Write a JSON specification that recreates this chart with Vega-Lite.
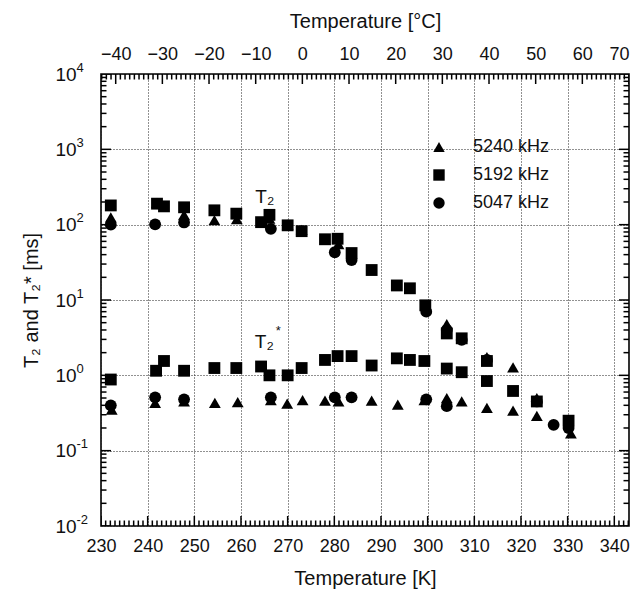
{
  "$schema": "https://vega.github.io/schema/vega-lite/v6.json",
  "width": 528,
  "height": 452,
  "autosize": "none",
  "padding": {"left": 101, "top": 74, "right": 6, "bottom": 66},
  "background": "white",
  "config": {
    "font": "Liberation Sans",
    "view": {"stroke": "black", "strokeWidth": 1.6},
    "axis": {
      "domain": false,
      "ticks": false,
      "labelFont": "Liberation Sans",
      "labelFontSize": 18,
      "labelColor": "#111",
      "labelFlush": false,
      "titleFont": "Liberation Sans",
      "titleFontSize": 20,
      "titleFontWeight": "normal",
      "titleColor": "#111",
      "gridColor": "#222",
      "gridDash": [1, 2],
      "gridWidth": 1
    }
  },
  "datasets": {
    "pts": [
      {"K": 232.1, "v": 125, "freq": "5240 kHz"},
      {"K": 242.0, "v": 195, "freq": "5240 kHz"},
      {"K": 247.8, "v": 135, "freq": "5240 kHz"},
      {"K": 254.3, "v": 115, "freq": "5240 kHz"},
      {"K": 259.1, "v": 118, "freq": "5240 kHz"},
      {"K": 266.1, "v": 120, "freq": "5240 kHz"},
      {"K": 270.0, "v": 100, "freq": "5240 kHz"},
      {"K": 273.0, "v": 85, "freq": "5240 kHz"},
      {"K": 280.9, "v": 55, "freq": "5240 kHz"},
      {"K": 304.1, "v": 4.8, "freq": "5240 kHz"},
      {"K": 312.7, "v": 1.75, "freq": "5240 kHz"},
      {"K": 318.3, "v": 1.28, "freq": "5240 kHz"},
      {"K": 232.3, "v": 0.35, "freq": "5240 kHz"},
      {"K": 241.6, "v": 0.43, "freq": "5240 kHz"},
      {"K": 247.8, "v": 0.45, "freq": "5240 kHz"},
      {"K": 254.4, "v": 0.43, "freq": "5240 kHz"},
      {"K": 259.3, "v": 0.44, "freq": "5240 kHz"},
      {"K": 266.4, "v": 0.47, "freq": "5240 kHz"},
      {"K": 269.9, "v": 0.42, "freq": "5240 kHz"},
      {"K": 273.2, "v": 0.47, "freq": "5240 kHz"},
      {"K": 278.0, "v": 0.46, "freq": "5240 kHz"},
      {"K": 280.9, "v": 0.45, "freq": "5240 kHz"},
      {"K": 288.0, "v": 0.46, "freq": "5240 kHz"},
      {"K": 293.6, "v": 0.41, "freq": "5240 kHz"},
      {"K": 299.3, "v": 0.47, "freq": "5240 kHz"},
      {"K": 304.1, "v": 0.5, "freq": "5240 kHz"},
      {"K": 307.3, "v": 0.45, "freq": "5240 kHz"},
      {"K": 312.7, "v": 0.37, "freq": "5240 kHz"},
      {"K": 318.3, "v": 0.34, "freq": "5240 kHz"},
      {"K": 323.4, "v": 0.5, "freq": "5240 kHz"},
      {"K": 323.4, "v": 0.29, "freq": "5240 kHz"},
      {"K": 330.7, "v": 0.17, "freq": "5240 kHz"},

      {"K": 232.1, "v": 180, "freq": "5192 kHz"},
      {"K": 242.0, "v": 190, "freq": "5192 kHz"},
      {"K": 243.5, "v": 175, "freq": "5192 kHz"},
      {"K": 247.8, "v": 170, "freq": "5192 kHz"},
      {"K": 254.3, "v": 155, "freq": "5192 kHz"},
      {"K": 259.0, "v": 140, "freq": "5192 kHz"},
      {"K": 264.3, "v": 108, "freq": "5192 kHz"},
      {"K": 266.1, "v": 135, "freq": "5192 kHz"},
      {"K": 270.0, "v": 98, "freq": "5192 kHz"},
      {"K": 273.0, "v": 82, "freq": "5192 kHz"},
      {"K": 278.0, "v": 64, "freq": "5192 kHz"},
      {"K": 280.7, "v": 65, "freq": "5192 kHz"},
      {"K": 283.7, "v": 42, "freq": "5192 kHz"},
      {"K": 288.0, "v": 25, "freq": "5192 kHz"},
      {"K": 293.4, "v": 15.6, "freq": "5192 kHz"},
      {"K": 296.2, "v": 14.3, "freq": "5192 kHz"},
      {"K": 299.5, "v": 8.5, "freq": "5192 kHz"},
      {"K": 304.1, "v": 3.6, "freq": "5192 kHz"},
      {"K": 307.3, "v": 3.1, "freq": "5192 kHz"},
      {"K": 312.7, "v": 1.55, "freq": "5192 kHz"},
      {"K": 323.4, "v": 0.45, "freq": "5192 kHz"},
      {"K": 330.2, "v": 0.25, "freq": "5192 kHz"},
      {"K": 232.1, "v": 0.88, "freq": "5192 kHz"},
      {"K": 241.8, "v": 1.15, "freq": "5192 kHz"},
      {"K": 243.5, "v": 1.55, "freq": "5192 kHz"},
      {"K": 247.8, "v": 1.15, "freq": "5192 kHz"},
      {"K": 254.3, "v": 1.25, "freq": "5192 kHz"},
      {"K": 259.0, "v": 1.25, "freq": "5192 kHz"},
      {"K": 264.3, "v": 1.31, "freq": "5192 kHz"},
      {"K": 266.1, "v": 1.0, "freq": "5192 kHz"},
      {"K": 270.0, "v": 1.0, "freq": "5192 kHz"},
      {"K": 273.0, "v": 1.25, "freq": "5192 kHz"},
      {"K": 278.0, "v": 1.6, "freq": "5192 kHz"},
      {"K": 280.7, "v": 1.8, "freq": "5192 kHz"},
      {"K": 283.7, "v": 1.8, "freq": "5192 kHz"},
      {"K": 288.0, "v": 1.35, "freq": "5192 kHz"},
      {"K": 293.4, "v": 1.68, "freq": "5192 kHz"},
      {"K": 296.2, "v": 1.6, "freq": "5192 kHz"},
      {"K": 299.3, "v": 1.55, "freq": "5192 kHz"},
      {"K": 304.1, "v": 1.23, "freq": "5192 kHz"},
      {"K": 307.3, "v": 1.1, "freq": "5192 kHz"},
      {"K": 312.7, "v": 0.84, "freq": "5192 kHz"},
      {"K": 318.3, "v": 0.62, "freq": "5192 kHz"},

      {"K": 232.1, "v": 100, "freq": "5047 kHz"},
      {"K": 241.6, "v": 101, "freq": "5047 kHz"},
      {"K": 247.8, "v": 107, "freq": "5047 kHz"},
      {"K": 266.4, "v": 88, "freq": "5047 kHz"},
      {"K": 280.1, "v": 43, "freq": "5047 kHz"},
      {"K": 283.7, "v": 34, "freq": "5047 kHz"},
      {"K": 299.7, "v": 7.0, "freq": "5047 kHz"},
      {"K": 304.1, "v": 4.0, "freq": "5047 kHz"},
      {"K": 307.3, "v": 2.95, "freq": "5047 kHz"},
      {"K": 312.7, "v": 1.6, "freq": "5047 kHz"},
      {"K": 232.1, "v": 0.4, "freq": "5047 kHz"},
      {"K": 241.6, "v": 0.51, "freq": "5047 kHz"},
      {"K": 247.8, "v": 0.48, "freq": "5047 kHz"},
      {"K": 266.4, "v": 0.51, "freq": "5047 kHz"},
      {"K": 280.1, "v": 0.51, "freq": "5047 kHz"},
      {"K": 283.7, "v": 0.51, "freq": "5047 kHz"},
      {"K": 299.7, "v": 0.48, "freq": "5047 kHz"},
      {"K": 304.1, "v": 0.39, "freq": "5047 kHz"},
      {"K": 323.4, "v": 0.45, "freq": "5047 kHz"},
      {"K": 327.0, "v": 0.22, "freq": "5047 kHz"},
      {"K": 330.2, "v": 0.2, "freq": "5047 kHz"}
    ],
    "labels": [
      {"K": 265.1, "v": 232, "t": "T₂"},
      {"K": 265.0, "v": 2.77, "t": "T₂"}
    ],
    "stars": [
      {"K": 265.0, "v": 2.77, "t": "*"}
    ],
    "kticks": [
      {"K":230},{"K":231},{"K":232},{"K":233},{"K":234},{"K":235},{"K":236},{"K":237},{"K":238},{"K":239},
      {"K":240},{"K":241},{"K":242},{"K":243},{"K":244},{"K":245},{"K":246},{"K":247},{"K":248},{"K":249},
      {"K":250},{"K":251},{"K":252},{"K":253},{"K":254},{"K":255},{"K":256},{"K":257},{"K":258},{"K":259},
      {"K":260},{"K":261},{"K":262},{"K":263},{"K":264},{"K":265},{"K":266},{"K":267},{"K":268},{"K":269},
      {"K":270},{"K":271},{"K":272},{"K":273},{"K":274},{"K":275},{"K":276},{"K":277},{"K":278},{"K":279},
      {"K":280},{"K":281},{"K":282},{"K":283},{"K":284},{"K":285},{"K":286},{"K":287},{"K":288},{"K":289},
      {"K":290},{"K":291},{"K":292},{"K":293},{"K":294},{"K":295},{"K":296},{"K":297},{"K":298},{"K":299},
      {"K":300},{"K":301},{"K":302},{"K":303},{"K":304},{"K":305},{"K":306},{"K":307},{"K":308},{"K":309},
      {"K":310},{"K":311},{"K":312},{"K":313},{"K":314},{"K":315},{"K":316},{"K":317},{"K":318},{"K":319},
      {"K":320},{"K":321},{"K":322},{"K":323},{"K":324},{"K":325},{"K":326},{"K":327},{"K":328},{"K":329},
      {"K":330},{"K":331},{"K":332},{"K":333},{"K":334},{"K":335},{"K":336},{"K":337},{"K":338},{"K":339},
      {"K":340},{"K":341},{"K":342},{"K":343}
    ],
    "cticks": [
      {"C":-43},{"C":-42},{"C":-41},
      {"C":-40},{"C":-39},{"C":-38},{"C":-37},{"C":-36},{"C":-35},{"C":-34},{"C":-33},{"C":-32},{"C":-31},
      {"C":-30},{"C":-29},{"C":-28},{"C":-27},{"C":-26},{"C":-25},{"C":-24},{"C":-23},{"C":-22},{"C":-21},
      {"C":-20},{"C":-19},{"C":-18},{"C":-17},{"C":-16},{"C":-15},{"C":-14},{"C":-13},{"C":-12},{"C":-11},
      {"C":-10},{"C":-9},{"C":-8},{"C":-7},{"C":-6},{"C":-5},{"C":-4},{"C":-3},{"C":-2},{"C":-1},
      {"C":0},{"C":1},{"C":2},{"C":3},{"C":4},{"C":5},{"C":6},{"C":7},{"C":8},{"C":9},
      {"C":10},{"C":11},{"C":12},{"C":13},{"C":14},{"C":15},{"C":16},{"C":17},{"C":18},{"C":19},
      {"C":20},{"C":21},{"C":22},{"C":23},{"C":24},{"C":25},{"C":26},{"C":27},{"C":28},{"C":29},
      {"C":30},{"C":31},{"C":32},{"C":33},{"C":34},{"C":35},{"C":36},{"C":37},{"C":38},{"C":39},
      {"C":40},{"C":41},{"C":42},{"C":43},{"C":44},{"C":45},{"C":46},{"C":47},{"C":48},{"C":49},
      {"C":50},{"C":51},{"C":52},{"C":53},{"C":54},{"C":55},{"C":56},{"C":57},{"C":58},{"C":59},
      {"C":60},{"C":61},{"C":62},{"C":63},{"C":64},{"C":65},{"C":66},{"C":67},{"C":68},{"C":69},
      {"C":70}
    ],
    "vticks": [
      {"v":0.01},{"v":0.02},{"v":0.03},{"v":0.04},{"v":0.05},{"v":0.06},{"v":0.07},{"v":0.08},{"v":0.09},
      {"v":0.1},{"v":0.2},{"v":0.3},{"v":0.4},{"v":0.5},{"v":0.6},{"v":0.7},{"v":0.8},{"v":0.9},
      {"v":1},{"v":2},{"v":3},{"v":4},{"v":5},{"v":6},{"v":7},{"v":8},{"v":9},
      {"v":10},{"v":20},{"v":30},{"v":40},{"v":50},{"v":60},{"v":70},{"v":80},{"v":90},
      {"v":100},{"v":200},{"v":300},{"v":400},{"v":500},{"v":600},{"v":700},{"v":800},{"v":900},
      {"v":1000},{"v":2000},{"v":3000},{"v":4000},{"v":5000},{"v":6000},{"v":7000},{"v":8000},{"v":9000},
      {"v":10000}
    ],
    "ax": [
      {"v": 1}
    ]
  },
  "layer": [
    {
      "layer": [
        {
          "data": {"name": "pts"},
          "mark": {"type": "point", "filled": true, "opacity": 1, "size": 140},
          "encoding": {
            "x": {
              "field": "K", "type": "quantitative",
              "scale": {"domain": [230, 343.15], "nice": false, "zero": false},
              "axis": {
                "orient": "bottom",
                "title": "Temperature [K]",
                "titlePadding": 13,
                "values": [230, 240, 250, 260, 270, 280, 290, 300, 310, 320, 330, 340],
                "labelPadding": 11,
                "grid": true
              }
            },
            "y": {
              "field": "v", "type": "quantitative",
              "scale": {"type": "log", "domain": [0.01, 10000], "nice": false},
              "axis": {
                "orient": "left",
                "title": "T₂ and T₂* [ms]",
                "titlePadding": 60,
                "values": [0.01, 0.1, 1, 10, 100, 1000, 10000],
                "labels": false,
                "grid": true
              }
            },
            "shape": {
              "field": "freq", "type": "nominal",
              "scale": {"domain": ["5240 kHz", "5192 kHz", "5047 kHz"], "range": ["triangle-up", "square", "circle"]},
              "legend": {
                "orient": "none", "legendX": 329, "legendY": 64,
                "title": null, "padding": 0,
                "labelFont": "Liberation Sans", "labelFontSize": 18, "labelColor": "#111",
                "labelOffset": 25, "rowPadding": 10, "symbolSize": 130,
                "symbolFillColor": "black", "symbolStrokeColor": "black", "symbolType": "circle"
              }
            },
            "color": {"value": "black"}
          }
        },
        {
          "data": {"name": "labels"},
          "mark": {"type": "text", "font": "Liberation Sans", "fontSize": 19, "color": "#111"},
          "encoding": {
            "x": {"field": "K", "type": "quantitative", "scale": {"domain": [230, 343.15], "nice": false, "zero": false}},
            "y": {"field": "v", "type": "quantitative", "scale": {"type": "log", "domain": [0.01, 10000], "nice": false}},
            "text": {"field": "t"}
          }
        },
        {
          "data": {"name": "stars"},
          "mark": {"type": "text", "font": "Liberation Sans", "fontSize": 13, "color": "#111", "dx": 14, "dy": -11},
          "encoding": {
            "x": {"field": "K", "type": "quantitative", "scale": {"domain": [230, 343.15], "nice": false, "zero": false}},
            "y": {"field": "v", "type": "quantitative", "scale": {"type": "log", "domain": [0.01, 10000], "nice": false}},
            "text": {"field": "t"}
          }
        },
        {
          "data": {"name": "kticks"},
          "mark": {"type": "tick", "orient": "vertical", "color": "black", "opacity": 1, "thickness": 1.5, "clip": true},
          "encoding": {
            "x": {"field": "K", "type": "quantitative", "scale": {"domain": [230, 343.15], "nice": false, "zero": false}},
            "y": {"datum": 0.01, "type": "quantitative", "scale": {"type": "log", "domain": [0.01, 10000], "nice": false}},
            "size": {"condition": {"test": "datum.K % 10 === 0", "value": 20}, "value": 11}
          }
        },
        {
          "data": {"name": "vticks"},
          "mark": {"type": "tick", "orient": "horizontal", "color": "black", "opacity": 1, "thickness": 1.5, "clip": true},
          "encoding": {
            "x": {"datum": 230, "type": "quantitative", "scale": {"domain": [230, 343.15], "nice": false, "zero": false}},
            "y": {"field": "v", "type": "quantitative", "scale": {"type": "log", "domain": [0.01, 10000], "nice": false}},
            "size": {"condition": {"test": "abs(log(datum.v)/LN10 - round(log(datum.v)/LN10)) < 0.001", "value": 20}, "value": 11}
          }
        },
        {
          "data": {"name": "vticks"},
          "mark": {"type": "tick", "orient": "horizontal", "color": "black", "opacity": 1, "thickness": 1.5, "clip": true},
          "encoding": {
            "x": {"datum": 343.15, "type": "quantitative", "scale": {"domain": [230, 343.15], "nice": false, "zero": false}},
            "y": {"field": "v", "type": "quantitative", "scale": {"type": "log", "domain": [0.01, 10000], "nice": false}},
            "size": {"condition": {"test": "abs(log(datum.v)/LN10 - round(log(datum.v)/LN10)) < 0.001", "value": 20}, "value": 11}
          }
        }
      ]
    },
    {
      "data": {"name": "cticks"},
      "mark": {"type": "tick", "orient": "vertical", "color": "black", "opacity": 1, "thickness": 1.5, "clip": true},
      "encoding": {
        "x": {
          "field": "C", "type": "quantitative",
          "scale": {"domain": [-43.15, 70], "nice": false, "zero": false},
          "axis": {
            "orient": "top",
            "title": "Temperature [°C]",
            "titlePadding": 14,
            "values": [-40, -30, -20, -10, 0, 10, 20, 30, 40, 50, 60, 70],
            "labelPadding": 11,
            "labelFlush": true,
            "grid": false
          }
        },
        "y": {"datum": 10000, "type": "quantitative", "scale": {"type": "log", "domain": [0.01, 10000], "nice": false}, "axis": null},
        "size": {"condition": {"test": "datum.C % 10 === 0", "value": 20}, "value": 11}
      }
    },
    {
      "data": {"name": "ax"},
      "mark": {"type": "point", "opacity": 0},
      "encoding": {
        "y": {
          "field": "v", "type": "quantitative",
          "scale": {"type": "log", "domain": [0.01, 10000], "nice": false},
          "axis": {
            "orient": "left",
            "title": null,
            "grid": false,
            "values": [0.01, 0.1, 1, 10, 100, 1000, 10000],
            "labelExpr": "'10'",
            "labelAlign": "left",
            "labelPadding": 46,
            "labelFontSize": 19
          }
        }
      }
    },
    {
      "data": {"name": "ax"},
      "mark": {"type": "point", "opacity": 0},
      "encoding": {
        "y": {
          "field": "v", "type": "quantitative",
          "scale": {"type": "log", "domain": [0.01, 10000], "nice": false},
          "axis": {
            "orient": "left",
            "title": null,
            "grid": false,
            "values": [0.01, 0.1, 1, 10, 100, 1000, 10000],
            "labelExpr": "datum.value==10000?'4':datum.value==1000?'3':datum.value==100?'2':datum.value==10?'1':datum.value==1?'0':datum.value==0.1?'-1':'-2'",
            "labelAlign": "left",
            "labelPadding": 25,
            "labelOffset": -7,
            "labelFontSize": 13
          }
        }
      }
    }
  ],
  "resolve": {
    "scale": {"x": "independent"},
    "axis": {"x": "independent", "y": "independent"}
  }
}
